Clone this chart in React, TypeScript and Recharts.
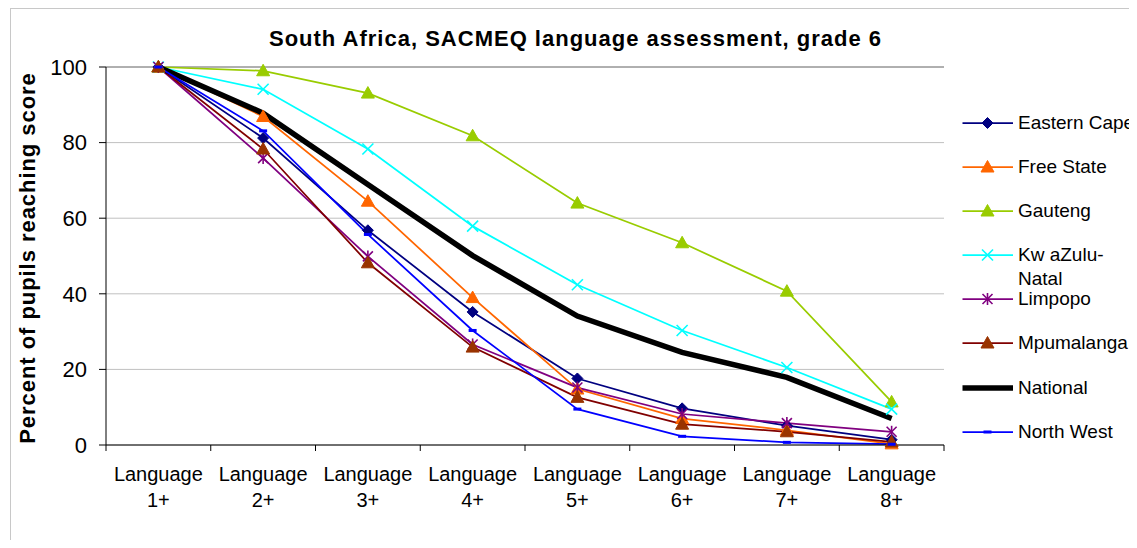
import React, { useLayoutEffect } from 'react';
import { LineChart, Line, XAxis, YAxis, CartesianGrid, ReferenceLine } from 'recharts';

const categories = ['Language 1+', 'Language 2+', 'Language 3+', 'Language 4+', 'Language 5+', 'Language 6+', 'Language 7+', 'Language 8+'];
const easternCape = [100, 81.2, 56.8, 35.2, 17.6, 9.7, 5.1, 1.4];
const freeState = [100, 86.9, 64.5, 39.0, 14.8, 7.0, 3.9, 0.3];
const gauteng = [100, 99.0, 93.1, 81.8, 64.0, 53.5, 40.7, 11.4];
const kwaZuluNatal = [100, 94.1, 78.3, 57.9, 42.4, 30.3, 20.5, 9.5];
const limpopo = [100, 75.9, 49.9, 26.6, 15.2, 8.2, 5.8, 3.5];
const mpumalanga = [100, 78.3, 48.2, 25.9, 12.6, 5.5, 3.5, 0.8];
const national = [100, 87.8, 68.9, 50.1, 34.1, 24.5, 17.9, 7.0];
const northWest = [100, 83.1, 55.7, 30.3, 9.5, 2.3, 0.7, 0.2];
const yTicks = [0, 20, 40, 60, 80, 100];

const title = 'South Africa, SACMEQ language assessment, grade 6';
const yLabel = 'Percent of pupils reaching score';

type Shape = 'diamond' | 'triangle' | 'x' | 'star' | 'dash' | 'none';
interface Series { key: string; name: string; values: number[]; stroke: string; fill: string; shape: Shape; width: number; }

const series: Series[] = [
  { key: 'easternCape', name: 'Eastern Cape', values: easternCape, stroke: '#000080', fill: '#000080', shape: 'diamond', width: 1.75 },
  { key: 'freeState', name: 'Free State', values: freeState, stroke: '#FF6600', fill: '#FF6600', shape: 'triangle', width: 1.75 },
  { key: 'gauteng', name: 'Gauteng', values: gauteng, stroke: '#99CC00', fill: '#99CC00', shape: 'triangle', width: 1.75 },
  { key: 'kwaZuluNatal', name: 'Kw aZulu-Natal', values: kwaZuluNatal, stroke: '#00FFFF', fill: '#00FFFF', shape: 'x', width: 1.75 },
  { key: 'limpopo', name: 'Limpopo', values: limpopo, stroke: '#800080', fill: '#800080', shape: 'star', width: 1.75 },
  { key: 'mpumalanga', name: 'Mpumalanga', values: mpumalanga, stroke: '#800000', fill: '#993300', shape: 'triangle', width: 1.75 },
  { key: 'national', name: 'National', values: national, stroke: '#000000', fill: '#000000', shape: 'none', width: 5.5 },
  { key: 'northWest', name: 'North West', values: northWest, stroke: '#0000FF', fill: '#0000FF', shape: 'dash', width: 1.75 },
];

const data = categories.map((c, i) => {
  const row: Record<string, string | number> = { category: c };
  series.forEach((s) => { row[s.key] = s.values[i]; });
  return row;
});

const FONT = '"Liberation Sans", Arial, sans-serif';

function Marker({ shape, cx, cy, stroke, fill }: { shape: Shape; cx: number; cy: number; stroke: string; fill: string }) {
  switch (shape) {
    case 'diamond':
      return <polygon points={`${cx},${cy - 5.5} ${cx + 5.5},${cy} ${cx},${cy + 5.5} ${cx - 5.5},${cy}`} fill={fill} stroke={stroke} strokeWidth={1} />;
    case 'triangle':
      return <polygon points={`${cx},${cy - 6.5} ${cx + 6.5},${cy + 5} ${cx - 6.5},${cy + 5}`} fill={fill} stroke={fill} strokeWidth={1} />;
    case 'x':
      return (
        <g stroke={stroke} strokeWidth={1.6}>
          <line x1={cx - 5.5} y1={cy - 5.5} x2={cx + 5.5} y2={cy + 5.5} />
          <line x1={cx - 5.5} y1={cy + 5.5} x2={cx + 5.5} y2={cy - 5.5} />
        </g>
      );
    case 'star':
      return (
        <g stroke={stroke} strokeWidth={1.6}>
          <line x1={cx - 5} y1={cy - 5} x2={cx + 5} y2={cy + 5} />
          <line x1={cx - 5} y1={cy + 5} x2={cx + 5} y2={cy - 5} />
          <line x1={cx} y1={cy - 6} x2={cx} y2={cy + 6} />
        </g>
      );
    case 'dash':
      return <rect x={cx - 4} y={cy - 1.5} width={8} height={3} fill={fill} />;
    default:
      return null;
  }
}

const XTick = (props: any) => {
  const { x, y, payload, index, width, visibleTicksCount } = props;
  const count = visibleTicksCount || categories.length;
  const half = width && count ? width / count / 2 : (payload && payload.offset) || 52;
  const parts = String(payload.value).split(' ');
  const axisY = y - 6;
  return (
    <g>
      <line x1={x - half} x2={x - half} y1={axisY} y2={axisY + 6} stroke="#000" strokeWidth={1} />
      {index === count - 1 && <line x1={x + half} x2={x + half} y1={axisY} y2={axisY + 6} stroke="#000" strokeWidth={1} />}
      <text x={x} y={axisY + 36} textAnchor="middle" fill="#000" fontSize={20} fontFamily={FONT}>{parts[0]}</text>
      <text x={x} y={axisY + 62} textAnchor="middle" fill="#000" fontSize={20} fontFamily={FONT}>{parts[1]}</text>
    </g>
  );
};

const LegendBox = () => (
  <div style={{ position: 'absolute', left: 954, top: 0, fontFamily: FONT, fontSize: 19, color: '#000' }}>
    {series.map((s, i) => {
      const lines = s.name.includes('-') ? [s.name.slice(0, s.name.indexOf('-') + 1), s.name.slice(s.name.indexOf('-') + 1)] : [s.name];
      return (
        <div key={s.key} style={{ position: 'absolute', left: 0, top: 102.7 + i * 44.15, display: 'flex', alignItems: 'flex-start', whiteSpace: 'nowrap' }}>
          <svg width={56} height={24} style={{ display: 'block' }}>
            <line x1={0.5} x2={51} y1={12} y2={12} stroke={s.stroke} strokeWidth={s.key === 'national' ? 5.5 : 1.75} />
            <Marker shape={s.shape} cx={25.5} cy={12} stroke={s.stroke} fill={s.fill} />
          </svg>
          <div style={{ lineHeight: '24px' }}>
            {lines.map((l, j) => <div key={j}>{l}</div>)}
          </div>
        </div>
      );
    })}
  </div>
);

export default function App() {
  useLayoutEffect(() => {
    document.documentElement.style.overflow = 'hidden';
    document.body.style.overflow = 'hidden';
  }, []);
  return (
    <div style={{ position: 'relative', width: 1129, height: 532, overflow: 'hidden', background: '#fff' }}>
      <div style={{ position: 'absolute', left: 2, top: 0, width: 1300, height: 700, border: '1px solid #c8c8c8', boxSizing: 'border-box' }} />
      <div style={{ position: 'absolute', left: 0, top: 20.1, width: 1135, textAlign: 'center', fontFamily: FONT, fontSize: 22, fontWeight: 'bold', letterSpacing: 1, lineHeight: '22px', whiteSpace: 'nowrap' }}>{title}</div>
      <div style={{ position: 'absolute', left: -179.6, top: 239, width: 400, height: 22, textAlign: 'center', fontFamily: FONT, fontSize: 22, fontWeight: 'bold', letterSpacing: 0.95, lineHeight: '22px', whiteSpace: 'nowrap', transform: 'rotate(-90deg)', transformOrigin: '50% 50%' }}>{yLabel}</div>
      <div style={{ position: 'absolute', left: 0, top: 0 }}>
        <LineChart width={1129} height={532} data={data} margin={{ top: 59, right: 193, left: 0, bottom: 35 }}>
          <CartesianGrid vertical={false} stroke="#c0c0c0" strokeWidth={1} />
          <XAxis dataKey="category" scale="band" interval={0} height={60} tickLine={false} tickSize={6} tickMargin={0} axisLine={{ stroke: '#000', strokeWidth: 1 }} tick={<XTick />} />
          <YAxis domain={[0, 100]} ticks={yTicks} width={98} tickSize={7} tickMargin={12} axisLine={{ stroke: '#000', strokeWidth: 1 }} tickLine={{ stroke: '#000', strokeWidth: 1 }} tick={{ fill: '#000', fontSize: 22, fontFamily: FONT }} interval={0} />
          <YAxis yAxisId="frame" orientation="right" domain={[0, 100]} width={0} tick={false} tickLine={false} axisLine={{ stroke: '#808080', strokeWidth: 1 }} />
          <ReferenceLine y={100} stroke="#808080" strokeWidth={1} />
          {series.map((s) => (
            <Line
              key={s.key}
              dataKey={s.key}
              name={s.name}
              type="linear"
              stroke={s.stroke}
              strokeWidth={s.width}
              isAnimationActive={false}
              dot={s.shape === 'none' ? false : (p: any) => <Marker key={`${s.key}-${p.index}`} shape={s.shape} cx={p.cx} cy={p.cy} stroke={s.stroke} fill={s.fill} />}
              activeDot={false}
            />
          ))}
        </LineChart>
      </div>
      <LegendBox />
    </div>
  );
}
